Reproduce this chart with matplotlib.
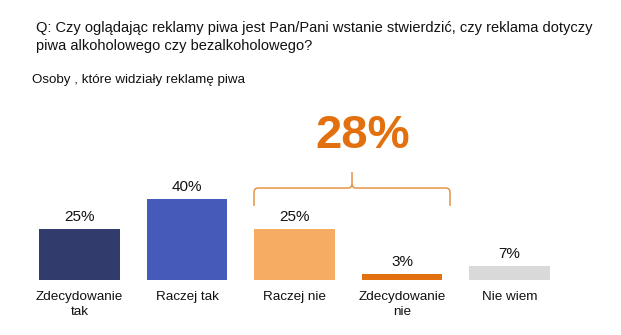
import matplotlib
matplotlib.use("Agg")
import matplotlib.pyplot as plt
from matplotlib.path import Path
from matplotlib.patches import PathPatch

plt.rcParams['font.family'] = ['Liberation Sans', 'DejaVu Sans']

# dane
categories = ['Zdecydowanie\ntak', 'Raczej tak', 'Raczej nie', 'Zdecydowanie\nnie', 'Nie wiem']
values = [25, 40, 25, 3, 7]
colors = ['#323C6C', '#455AB9', '#F6AC62', '#E3700E', '#D9D9D9']
title_lines = ['Q: Czy oglądając reklamy piwa jest Pan/Pani wstanie stwierdzić, czy reklama dotyczy',
               'piwa alkoholowego czy bezalkoholowego?']
subtitle = 'Osoby , które widziały reklamę piwa'

W, H = 621, 335
fig = plt.figure(figsize=(W / 100, H / 100), dpi=100)

def fx(px):
    return px / W

def fy(py):
    # py liczone od gory obrazka
    return 1 - py / H

for i, line in enumerate(title_lines):
    fig.text(fx(36), fy(32 + 18 * i), line, fontsize=10.55, va='baseline',
             ha='left', color='#111111')
fig.text(fx(32), fy(83), subtitle, fontsize=9.6, va='baseline', ha='left',
         color='#111111')

# os: srodki slupkow co 107.5 px, podstawa na y=280 px
ax = fig.add_axes([fx(25.75), 55 / H, fx(537.5), 101.5 / H])
x = list(range(len(values)))
bw = 0.753
ax.bar(x, values, width=bw, color=colors)
ax.set_xlim(-0.5, 4.5)
ax.set_ylim(0, 50)
for s in ax.spines.values():
    s.set_visible(False)
ax.set_yticks([])
ax.set_xticks(x)
ax.set_xticklabels(categories, fontsize=9.7, linespacing=1.3, color='#111111')
ax.tick_params(axis='x', length=0, pad=8)

for xi, v in zip(x, values):
    ax.annotate(f'{v}%', (xi, v), xytext=(0, 5.8), textcoords='offset points',
                ha='center', va='baseline', fontsize=11, color='#111111')

# klamra nad "Raczej nie" + "Zdecydowanie nie"
bc = '#E39545'
x0 = 2 - bw / 2
x1 = 3 + bw / 2 + 0.07
xm = (x0 + x1) / 2
yb, yh, yt = 36.5, 45.3, 53.2
rx, ry = 0.04, 2.0
verts = [(x0, yb), (x0, yh - ry), (x0, yh), (x0 + rx, yh),
         (xm - rx, yh), (xm, yh), (xm, yh + ry), (xm, yt),
         (xm, yh + ry), (xm, yh), (xm + rx, yh),
         (x1 - rx, yh), (x1, yh), (x1, yh - ry), (x1, yb)]
codes = [Path.MOVETO, Path.LINETO, Path.CURVE3, Path.CURVE3,
         Path.LINETO, Path.CURVE3, Path.CURVE3, Path.LINETO,
         Path.MOVETO, Path.CURVE3, Path.CURVE3,
         Path.LINETO, Path.CURVE3, Path.CURVE3, Path.LINETO]
ax.add_patch(PathPatch(Path(verts, codes), fill=False, edgecolor=bc,
                       linewidth=1.1, clip_on=False))

total_no = values[2] + values[3]
ax.text(xm + 0.1, 65, f'{total_no}%', ha='center', va='baseline',
        fontsize=34, fontweight='bold', color='#E3700E', clip_on=False)

fig.savefig('out.png', dpi=100)
